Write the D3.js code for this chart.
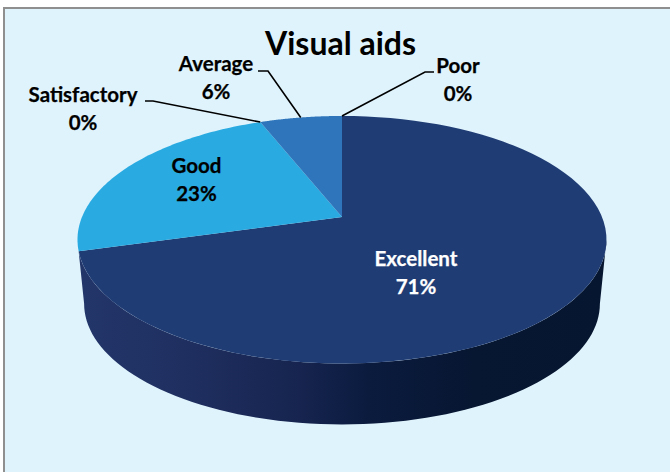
<!DOCTYPE html>
<html><head><meta charset="utf-8">
<script src="https://cdn.jsdelivr.net/npm/d3@7"></script>
<style>html,body{margin:0;padding:0;background:#fff}svg{display:block}text{font-family:Lato,"Open Sans",sans-serif;font-weight:700}</style>
</head><body><svg id="c" width="670" height="472"></svg>
<script>
const categories = ["Excellent","Good","Satisfactory","Average","Poor"];
const values = [70.6,23.4,0,6,0];
const colors = ["#203c74","#29abe2","#2a9fd8","#2e75bb","#203c74"];
const titleText = "Visual aids";

// layout of the tilted pie
const cx=342, apexY=217, kx=260, persp=0.1838, ky=-79.7;
const depthDy=64, depthScale=0.975, ellCy=240;
// label centres [x, first-line y], elbows of the leaders
const labelPos = {Excellent:[416,259],Good:[196.5,166],Satisfactory:[83,95],Average:[216,64],Poor:[458,66]};
const elbows = {Satisfactory:[[145,101],[153,101]],Average:[[258,71],[268,71]],Poor:[[434,72],[425,72]]};

const svg=d3.select("#c");
const defs=svg.append("defs");
const grad=defs.append("linearGradient").attr("id","side").attr("gradientUnits","userSpaceOnUse")
  .attr("x1",78).attr("x2",606).attr("y1",0).attr("y2",0);
[[0,"#23366a"],[0.2,"#1f2f60"],[0.42,"#16244f"],[0.55,"#0b1b3e"],[0.75,"#071631"],[1,"#071630"]]
  .forEach(s=>grad.append("stop").attr("offset",s[0]).attr("stop-color",s[1]));

// background panel
svg.append("rect").attr("x",4).attr("y",8).attr("width",680).attr("height",480)
  .attr("fill","#dff3fc").attr("stroke","#8f8f8f").attr("stroke-width",2);

const arcs=d3.pie().value(d=>d).sort(null)(values);

// projective view of the unit circle
const proj=(a,r=1)=>{
  const u=r*Math.sin(a), v=r*Math.cos(a), w=1+persp*v;
  return [cx+kx*u/w,(ky*v+apexY)/w];
};
const lower=p=>[cx+(p[0]-cx)*depthScale, ellCy+depthDy+(p[1]-ellCy)*depthScale];
const line=d3.line();
const sampled=(a0,a1)=>d3.range(0,81).map(i=>a0+(a1-a0)*i/80);

// side wall: front rim from the end of Excellent back to its right-most point
const rightA=Math.PI/2+Math.asin(persp),
      a0=rightA, a1=arcs[0].endAngle;
const rimTop=sampled(a0,a1).map(a=>proj(a));
const leftA=2*Math.PI-rightA;
const rimBottom=sampled(a0,Math.max(a1,leftA)).map(a=>lower(proj(a)));
svg.append("path").attr("d",line(rimTop.concat(rimBottom.reverse()))+"Z").attr("fill","url(#side)");

// top faces
svg.selectAll("path.slice").data(arcs).join("path").attr("class","slice")
  .attr("fill",(d,i)=>colors[i])
  .attr("d",d=>d.endAngle===d.startAngle?null:line([[cx,apexY]].concat(sampled(d.startAngle,d.endAngle).map(a=>proj(a))))+"Z");

// leaders
arcs.forEach((d,i)=>{
  const e=elbows[categories[i]]; if(!e) return;
  const end=proj((d.startAngle+d.endAngle)/2);
  svg.append("path").attr("d",line(e.concat([end]))).attr("fill","none").attr("stroke","#000").attr("stroke-width",1.6);
});

// title & labels
svg.append("text").attr("x",340.5).attr("y",55).attr("text-anchor","middle").attr("font-size",32).attr("fill","#000").text(titleText);
const pct=d3.format(".0f");
arcs.forEach((d,i)=>{
  const name=categories[i], p=labelPos[name], fill=name==="Excellent"?"#fff":"#000";
  const t=svg.append("text").attr("text-anchor","middle").attr("font-size",20.5).attr("fill",fill)
    .attr("stroke",fill).attr("stroke-width",0.25);
  t.append("tspan").attr("x",p[0]).attr("y",p[1]+7).text(name);
  t.append("tspan").attr("x",p[0]).attr("y",p[1]+35).text(pct(values[i])+"%");
});
</script></body></html>
